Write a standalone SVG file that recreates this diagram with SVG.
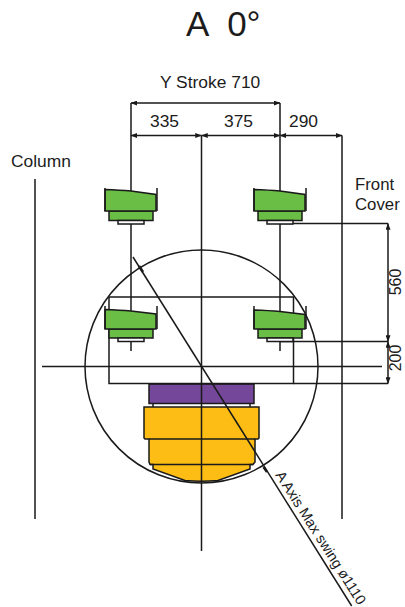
<svg xmlns="http://www.w3.org/2000/svg" width="405" height="607" viewBox="0 0 405 607">
<style>
text{font-family:"Liberation Sans",Arial,sans-serif;fill:#1c1c1c}
.l{fill:none;stroke:#1a1a1a;stroke-width:1.5}
.s{stroke:#1a1a1a;stroke-width:1.5}
.g{fill:#6abd45}.p{fill:#74479a}.y{fill:#fdbd14}.w{fill:#fff}
.t{font-size:17.400px}
.v{font-size:16px}
.f{font-size:16.800px}
</style>
<defs>
<marker id="a" viewBox="0 0 8 6" refX="7.500" refY="3" markerWidth="7" markerHeight="5" orient="auto-start-reverse" markerUnits="userSpaceOnUse"><path d="M0 0L8 3L0 6Z" fill="#1a1a1a"/></marker>
</defs>
<rect width="405" height="607" fill="#fff"/>
<g id="spindle">
<rect class="p s" x="149" y="384" width="105" height="19.500"/>
<path class="w s" d="M153 403.500V407M250 403.500V407"/>
<path class="y s" d="M144 407H259V438L258 439H255V462L253 464.500H250V469L218 480.500Q201 482 185 480.500L153 469V464.500H150L149 462V439H145L144 438Z"/>
<path class="l" d="M149 439H255M150 464.500H253"/>
</g>
<g id="connectors" class="l">
<circle cx="201.500" cy="366.500" r="116.500"/>
<path d="M35 179V519M342 135.500V519M201.500 136V551M131 103V306M131 221V351M280 103V306M280 221V351"/>
<path d="M42 366.500H382"/>
<rect x="109" y="297" width="184.500" height="86.500"/>
<path d="M293.500 383.500H388M280 223.500H388M280 341.500H388"/>
<path d="M133 257L351.700 606"/>
<path d="M131 103H280" marker-start="url(#a)" marker-end="url(#a)"/>
<path d="M131 135.500H201.500" marker-start="url(#a)" marker-end="url(#a)"/>
<path d="M201.500 135.500H280" marker-start="url(#a)" marker-end="url(#a)"/>
<path d="M280 135.500H342" marker-start="url(#a)" marker-end="url(#a)"/>
<path d="M388 223.500V341.500" marker-start="url(#a)" marker-end="url(#a)"/>
<path d="M388 341.500V383.500" marker-start="url(#a)" marker-end="url(#a)"/>
<path d="M139 266L143 272" stroke-width="2.500"/>
<path d="M263.500 467L267 472" stroke-width="2.500"/>
</g>
<g id="node-top-left">
<rect class="g s" x="109" y="211" width="44" height="9.500"/>
<rect class="w s" x="118" y="220.500" width="26" height="3.500" stroke-width="1"/>
<path class="g s" d="M105 189.500Q120 190 131 191L156 194.500V211H105Z"/>
<path class="l" d="M105 188V211M157 188V211"/>
</g>
<g id="node-top-right" transform="translate(149 0)">
<rect class="g s" x="109" y="211" width="44" height="9.500"/>
<rect class="w s" x="118" y="220.500" width="26" height="3.500" stroke-width="1"/>
<path class="g s" d="M105 189.500Q120 190 131 191L156 194.500V211H105Z"/>
<path class="l" d="M105 188V211M157 188V211"/>
</g>
<g id="node-bottom-left">
<rect class="g s" x="109" y="329" width="44" height="9"/>
<rect class="w s" x="118" y="338" width="26" height="3.500" stroke-width="1"/>
<path class="g s" d="M105 309.500Q120 310 131 311L156 314V329H105Z"/>
<path class="l" d="M105 306V329M157 306V329"/>
</g>
<g id="node-bottom-right" transform="translate(149 0)">
<rect class="g s" x="109" y="329" width="44" height="9"/>
<rect class="w s" x="118" y="338" width="26" height="3.500" stroke-width="1"/>
<path class="g s" d="M105 310Q120 310.500 131 311.500L156 314.500V329H105Z"/>
<path class="l" d="M105 306V329M157 306V329"/>
</g>
<g id="labels">
<text x="186" y="36" font-size="35">A <tspan dx="10">0°</tspan></text>
<text class="t" x="160" y="88">Y Stroke 710</text>
<text class="t" x="150" y="127">335</text>
<text class="t" x="224" y="127">375</text>
<text class="t" x="289" y="127">290</text>
<text class="t" x="11" y="167">Column</text>
<text class="f" x="355" y="190">Front</text>
<text class="f" x="355" y="209.500">Cover</text>
<text class="v" transform="translate(401 282) rotate(-90)" text-anchor="middle">560</text>
<text class="v" transform="translate(401 358) rotate(-90)" text-anchor="middle">200</text>
<text font-size="14.500" transform="translate(275 475) rotate(57.500)">A Axis Max swing ø1110</text>
</g>
</svg>
